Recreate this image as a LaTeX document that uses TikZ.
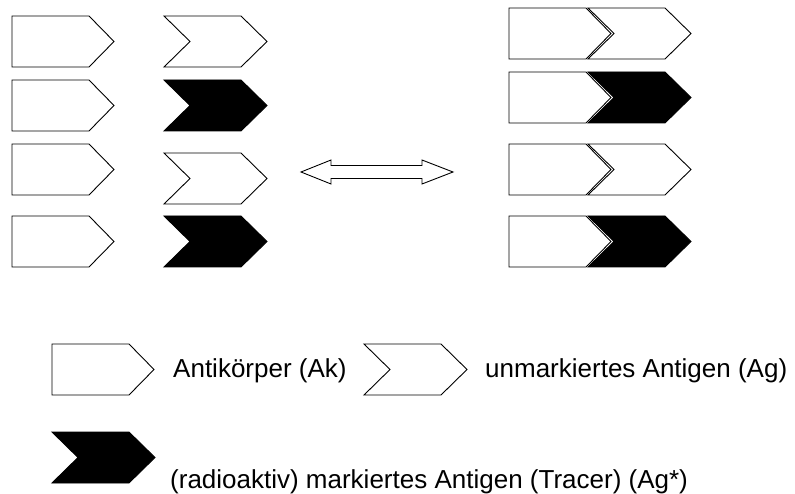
\documentclass[tikz,border=0pt]{standalone}
\usepackage{fontspec}
\setmainfont{Liberation Sans}
\newcommand{\AkShape}[2]{%
  \draw[shapeline] (#1,#2) -- ++(77,0) -- ++(25,25.5) -- ++(-25,25.5) -- ++(-77,0) -- cycle;}
\newcommand{\AgShape}[3]{%
  \draw[shapeline,fill=#3] (#1,#2) -- ++(77,0) -- ++(26,25.5) -- ++(-26,25.5) -- ++(-77,0) -- ++(26,-25.5) -- cycle;}
\begin{document}
\begin{tikzpicture}[x=1pt,y=-1pt,
  shapeline/.style={draw=black,line width=0.9pt,line join=miter},
  legendtext/.style={anchor=base west,inner sep=0pt,font=\fontsize{26}{30}\selectfont}]
\useasboundingbox (0,0) rectangle (795,494);
% left column: antibodies
\AkShape{12}{16}
\AkShape{12}{80}
\AkShape{12}{144}
\AkShape{12}{216}
% left column: antigens
\AgShape{164}{16}{white}
\AgShape{164}{80}{black}
\AgShape{164}{153}{white}
\AgShape{164}{216}{black}
% right column: bound complexes
\AkShape{509}{8}
\AgShape{588}{8}{white}
\AkShape{509}{72}
\AgShape{588}{72}{black}
\AkShape{509}{144}
\AgShape{588}{144}{white}
\AkShape{509}{216}
\AgShape{588}{216}{black}
% double arrow
\draw[shapeline,fill=white] (301,172) -- (331,160) -- (331,165.5) -- (422,165.5) -- (422,160)
  -- (453,172) -- (422,184) -- (422,178.5) -- (331,178.5) -- (331,184) -- cycle;
% legend
\AkShape{52}{344}
\node[legendtext] (ak) at (173,377) {Antikörper (Ak)};
\AgShape{364}{344}{white}
\node[legendtext] (ag) at (485,377) {unmarkiertes Antigen (Ag)};
\AgShape{52}{432}{black}
\node[legendtext] (tr) at (170,488) {(radioaktiv) markiertes Antigen (Tracer) (Ag*)};
\end{tikzpicture}
\end{document}
